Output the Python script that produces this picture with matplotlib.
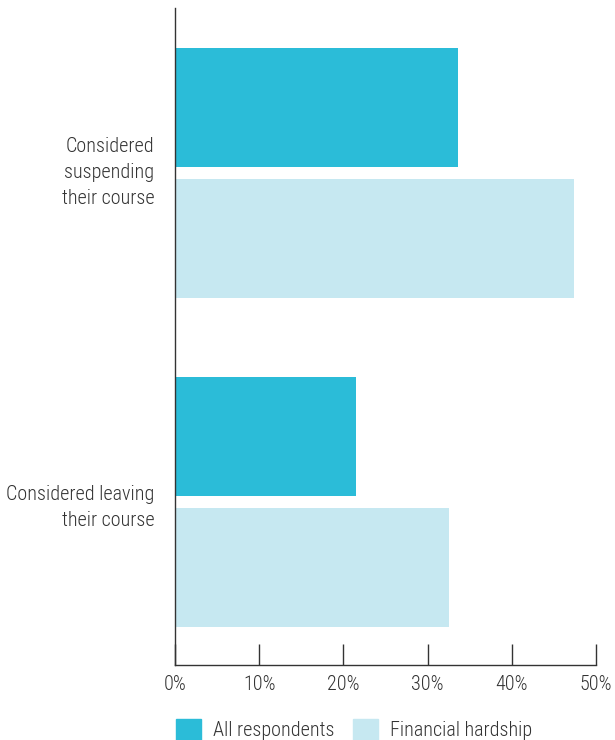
import matplotlib
matplotlib.use("Agg")
import matplotlib.pyplot as plt
from matplotlib.patches import Patch
import matplotlib.transforms as mtransforms
import numpy as np

categories = ["Considered\nsuspending\ntheir course", "Considered leaving\ntheir course"]
series_names = ["All respondents", "Financial hardship"]
all_respondents = [33.6, 21.5]
financial_hardship = [47.4, 32.5]
xticks = [0, 10, 20, 30, 40, 50]
xtick_labels = ["0%", "10%", "20%", "30%", "40%", "50%"]

colors = ["#2bbcd8", "#c6e8f1"]
plt.rcParams['font.family'] = ['Roboto Condensed', 'Liberation Sans Narrow', 'DejaVu Sans']
plt.rcParams['font.weight'] = 'light'
FS = 14.5

fig = plt.figure(figsize=(6.15, 7.4), dpi=100)
ax = fig.add_axes([175/615, 1-665/740, (596-175)/615, (665-8)/740])

y = np.arange(len(categories))
h = 0.362
off = 0.199
ax.barh(y - off, all_respondents, height=h, color=colors[0], label=series_names[0])
ax.barh(y + off, financial_hardship, height=h, color=colors[1], label=series_names[1])

ax.set_ylim(1.495, -0.502)
ax.set_xlim(0, 50)
ax.set_xticks(xticks)
ax.set_xticklabels(xtick_labels, fontsize=FS, color="#333333")
ax.set_yticks(y)
ax.set_yticklabels(categories, fontsize=FS, color="#333333", linespacing=1.44)
ax.tick_params(axis='y', length=0, pad=15)
ax.tick_params(axis='x', direction='in', length=15, width=1, color="#333333", pad=7)
for s in ['top', 'right']:
    ax.spines[s].set_visible(False)
for s in ['left', 'bottom']:
    ax.spines[s].set_color("#333333")
    ax.spines[s].set_linewidth(1)

# shift the three-line label up slightly
lbl = ax.get_yticklabels()[0]
lbl.set_transform(lbl.get_transform() + mtransforms.ScaledTranslation(0, 6/100, fig.dpi_scale_trans))

handles = [Patch(color=colors[0]), Patch(color=colors[1])]
fig.legend(handles, series_names, loc='lower left', bbox_to_anchor=(176/615, 0.0),
           ncol=2, frameon=False, fontsize=FS, handlelength=1.24, handleheight=1.24,
           columnspacing=0.9, handletextpad=0.6, labelcolor="#333333",
           borderpad=0, borderaxespad=0)

fig.savefig("out.png", dpi=100)
